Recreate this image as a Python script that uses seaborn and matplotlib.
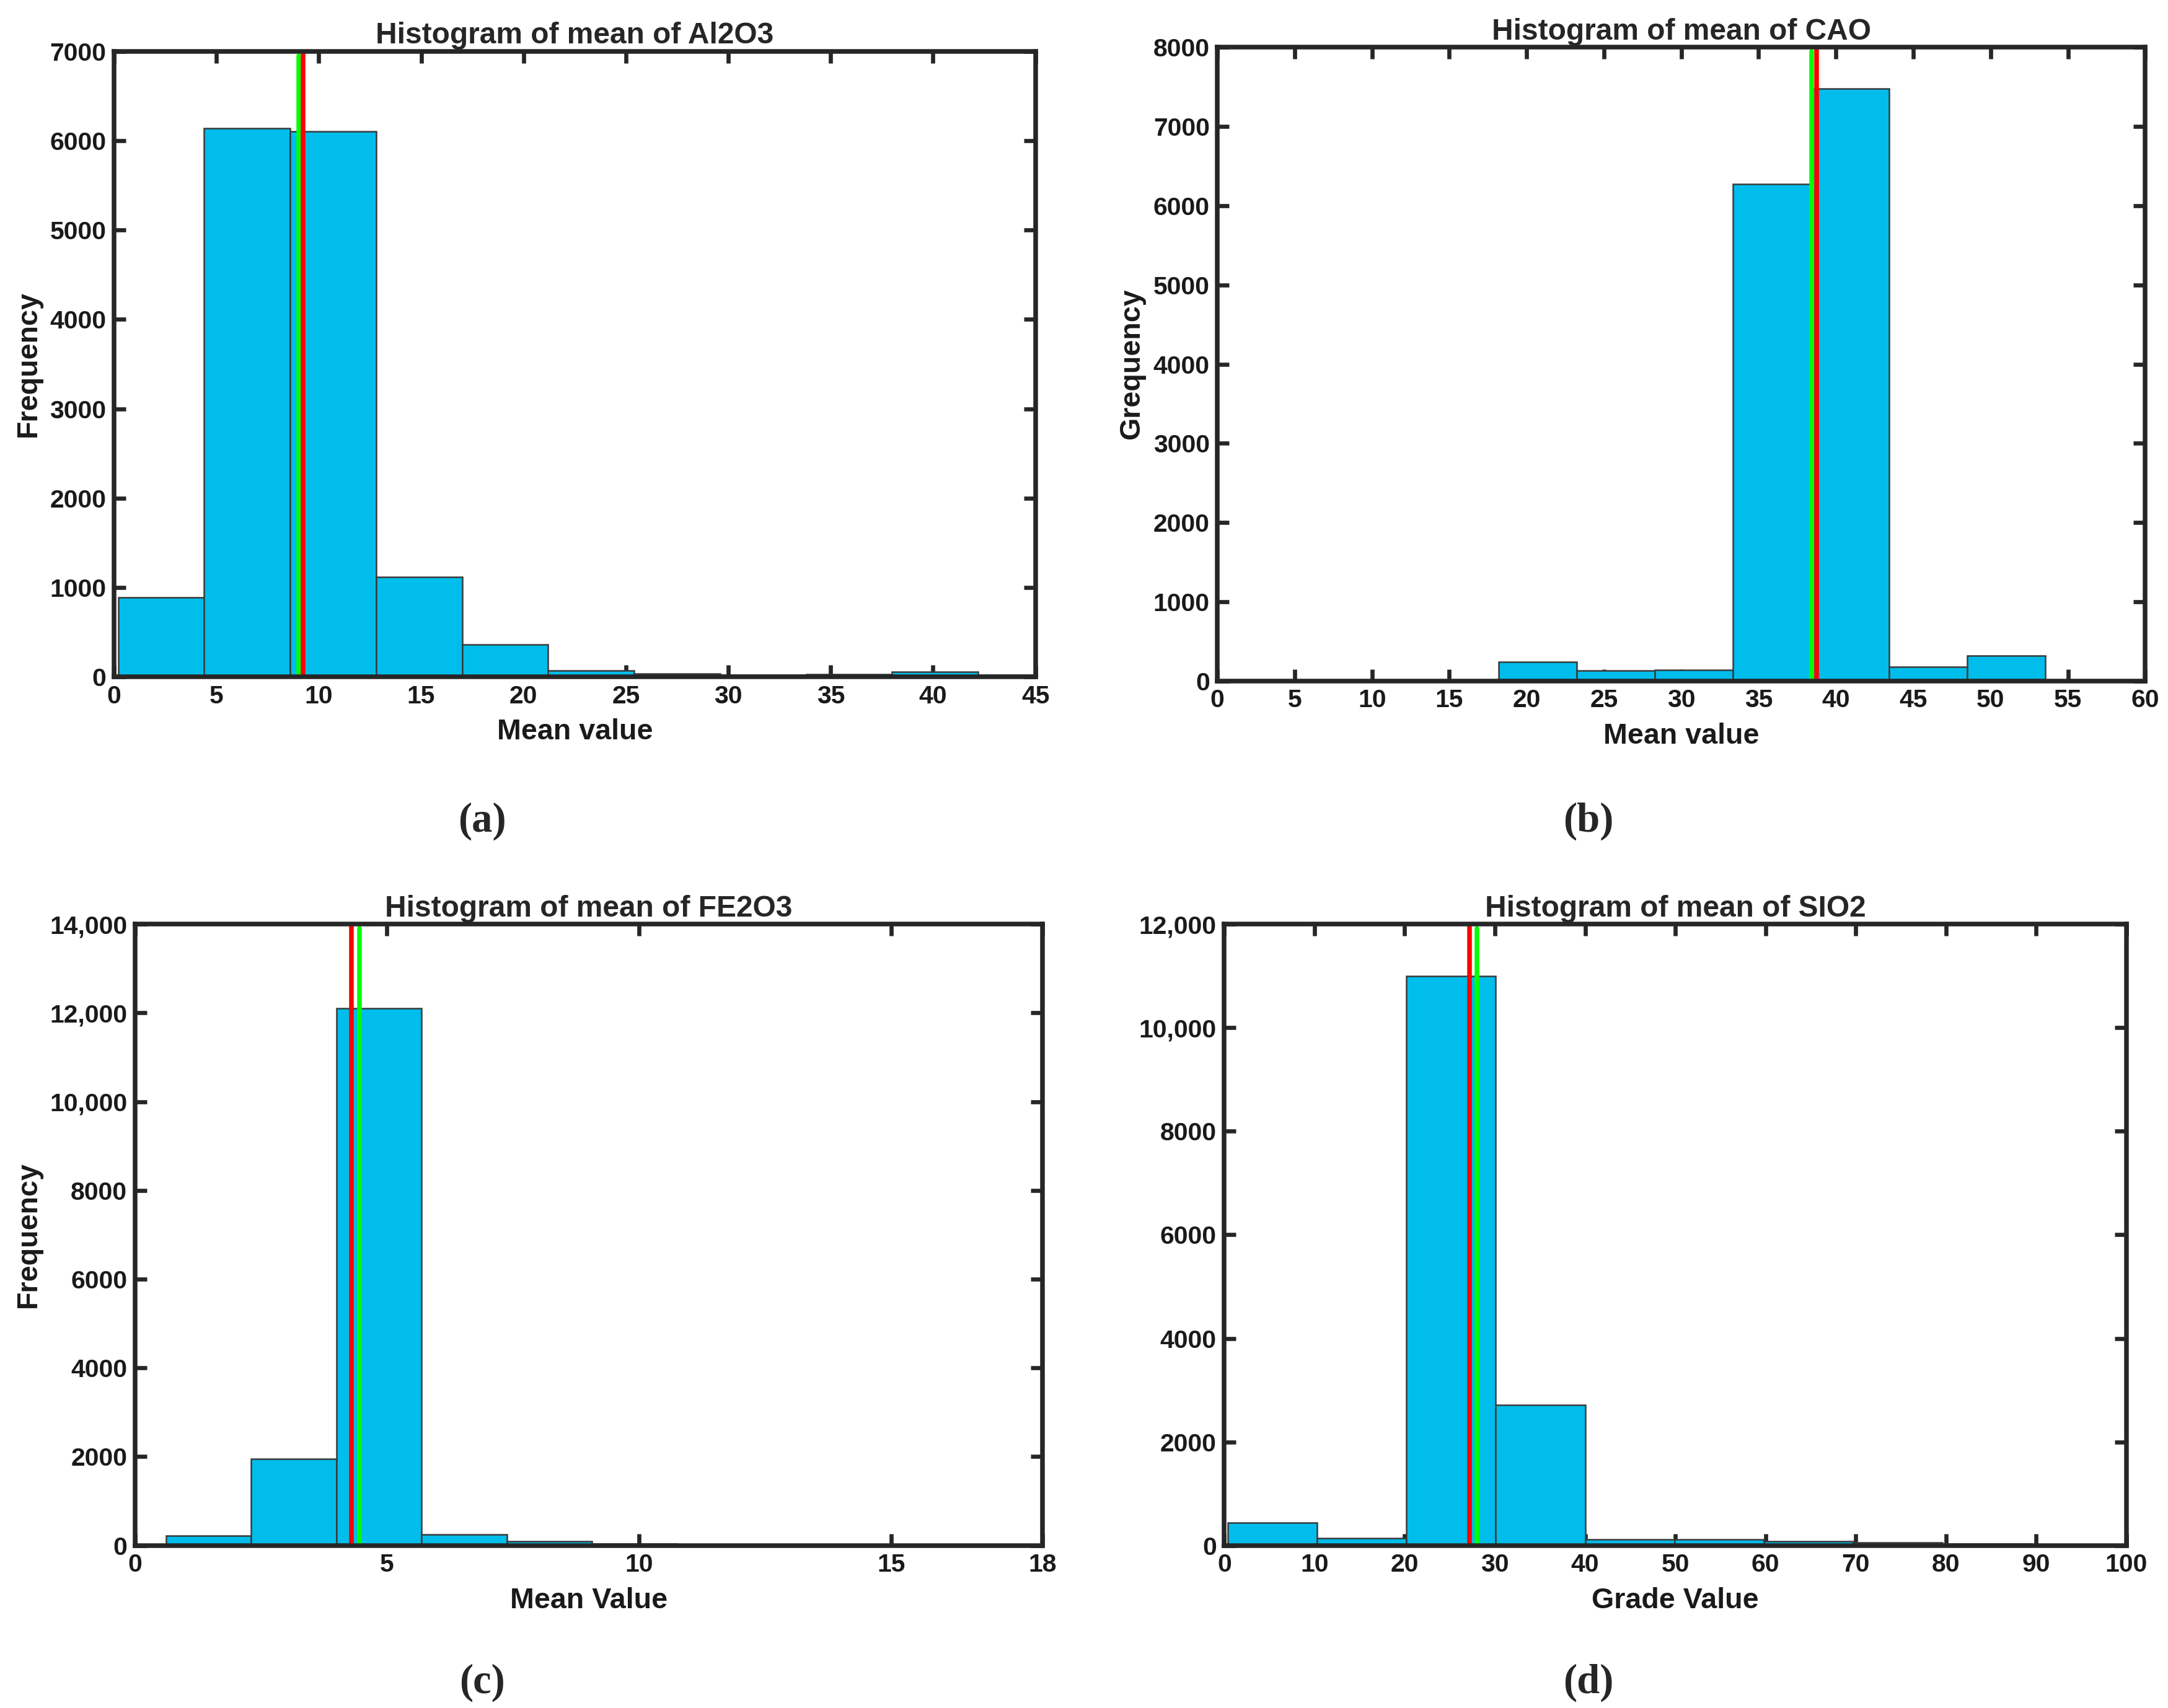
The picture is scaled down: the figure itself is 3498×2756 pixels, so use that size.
import numpy as np
import pandas as pd
import matplotlib
matplotlib.use("Agg")
import matplotlib.pyplot as plt
import seaborn as sns

# Bin edges / counts
al2o3_edges = [0.2, 4.4, 8.6, 12.8, 17.0, 21.2, 25.4, 29.6, 33.8, 38.0, 42.2, 46.4]
al2o3_counts = [890, 6140, 6100, 1120, 360, 70, 35, 25, 30, 55, 20]
al2o3_green, al2o3_red = 9.02, 9.22

cao_edges = [18.2, 23.25, 28.3, 33.35, 38.4, 43.45, 48.5, 53.55]
cao_counts = [240, 135, 140, 6270, 7480, 175, 318]
cao_green, cao_red = 38.43, 38.74

fe2o3_edges = [0.62, 2.31, 4.0, 5.69, 7.38, 9.07, 10.76]
fe2o3_counts = [220, 1950, 12100, 250, 90, 30]
fe2o3_green, fe2o3_red = 4.46, 4.29

sio2_edges = [0.4, 10.3, 20.2, 30.1, 40.0, 49.9, 59.8, 69.7, 79.6, 89.5, 99.4]
sio2_counts = [440, 140, 11000, 2710, 110, 120, 75, 50, 30, 20]
sio2_green, sio2_red = 28.0, 27.2

# axis setup
a_xticks = list(range(0, 50, 5))
b_xticks = list(range(0, 65, 5))
c_xticks = [0, 5, 10, 15, 18]
d_xticks = list(range(0, 110, 10))

a_yticks = list(range(0, 8000, 1000))
b_yticks = list(range(0, 9000, 1000))
c_yticks = list(range(0, 16000, 2000))
c_ylabels = ['0', '2000', '4000', '6000', '8000', '10,000', '12,000', '14,000']
d_yticks = list(range(0, 14000, 2000))
d_ylabels = ['0', '2000', '4000', '6000', '8000', '10,000', '12,000']

sns.set_style("ticks")
plt.rcParams['font.family'] = ['Liberation Sans', 'DejaVu Sans']
plt.rcParams['font.weight'] = 'bold'

BAR = '#00BDEB'
FRAME = '#262626'

fig = plt.figure(figsize=(11.66, 9.1867), dpi=300)

panels = [
    dict(pos=[0.0526, 0.6037, 0.4250, 0.3663], edges=al2o3_edges, counts=al2o3_counts,
         green=al2o3_green, red=al2o3_red, xlim=(0, 45), ylim=(0, 7000),
         xticks=a_xticks, yticks=a_yticks, ylabels=None,
         title='Histogram of mean of Al2O3', xlabel='Mean value', ylabel='Frequency',
         tag='(a)', tagpos=(0.2224, 0.519)),
    dict(pos=[0.5615, 0.6013, 0.4280, 0.3710], edges=cao_edges, counts=cao_counts,
         green=cao_green, red=cao_red, xlim=(0, 60), ylim=(0, 8000),
         xticks=b_xticks, yticks=b_yticks, ylabels=None,
         title='Histogram of mean of CAO', xlabel='Mean value', ylabel='Grequency',
         tag='(b)', tagpos=(0.7327, 0.519)),
    dict(pos=[0.0622, 0.0952, 0.4186, 0.3637], edges=fe2o3_edges, counts=fe2o3_counts,
         green=fe2o3_green, red=fe2o3_red, xlim=(0, 18), ylim=(0, 14000),
         xticks=c_xticks, yticks=c_yticks, ylabels=c_ylabels,
         title='Histogram of mean of FE2O3', xlabel='Mean Value', ylabel='Frequency',
         tag='(c)', tagpos=(0.2224, 0.0147)),
    dict(pos=[0.5647, 0.0952, 0.4161, 0.3637], edges=sio2_edges, counts=sio2_counts,
         green=sio2_green, red=sio2_red, xlim=(0, 100), ylim=(0, 12000),
         xticks=d_xticks, yticks=d_yticks, ylabels=d_ylabels,
         title='Histogram of mean of SIO2', xlabel='Grade Value', ylabel='',
         tag='(d)', tagpos=(0.7327, 0.0147)),
]

for p in panels:
    ax = fig.add_axes(p['pos'])
    edges = p['edges']
    centers = [(lo + hi) / 2 for lo, hi in zip(edges[:-1], edges[1:])]
    df = pd.DataFrame({'value': centers, 'count': p['counts']})
    sns.histplot(data=df, x='value', weights='count', bins=edges, ax=ax,
                 color=BAR, alpha=1, edgecolor='#3a3a3a', linewidth=0.6)
    ax.axvline(p['green'], ymax=0.993, color='#00FF00', lw=1.8)
    ax.axvline(p['red'], color='#FF0000', lw=1.8)

    ax.set_xlim(*p['xlim'])
    ax.set_ylim(*p['ylim'])
    ax.set_xticks(p['xticks'])
    ax.set_yticks(p['yticks'])
    if p['ylabels'] is not None:
        ax.set_yticklabels(p['ylabels'])

    ax.tick_params(direction='in', top=True, right=True, length=4.5, width=1.6,
                   labelsize=9.8, pad=3, color=FRAME, labelcolor='#1a1a1a')
    for s in ax.spines.values():
        s.set_visible(True)
        s.set_linewidth(1.8)
        s.set_color(FRAME)

    ax.set_title(p['title'], fontsize=11.5, fontweight='bold', pad=3)
    ax.set_xlabel(p['xlabel'], fontsize=11.2, fontweight='bold', labelpad=4, color='#1a1a1a')
    ax.set_ylabel(p['ylabel'], fontsize=11.2, fontweight='bold', labelpad=3, color='#1a1a1a')

    fig.text(p['tagpos'][0], p['tagpos'][1], p['tag'], ha='center', va='center',
             fontsize=16, fontweight='bold', family=['Liberation Serif', 'DejaVu Serif'])

fig.savefig('out.png', dpi=300, facecolor='white')
